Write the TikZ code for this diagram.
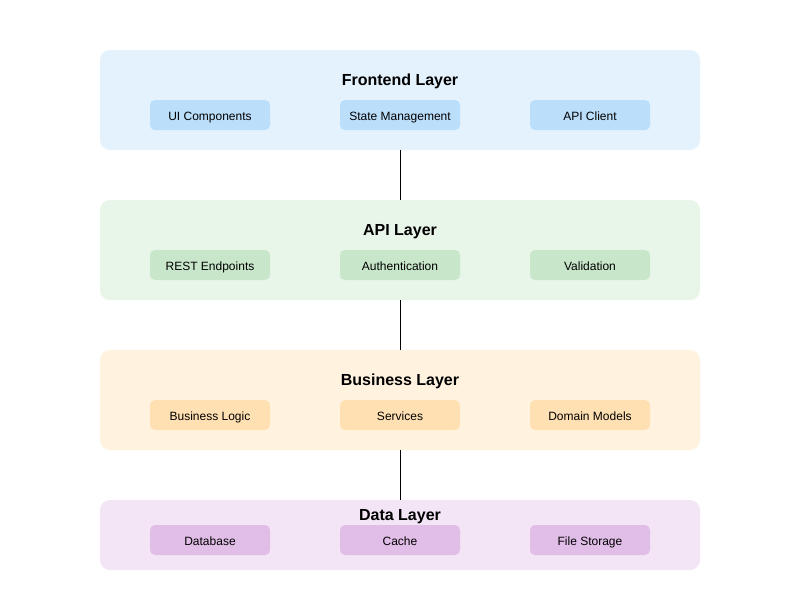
\documentclass[tikz,border=0pt]{standalone}
\usepackage{fontspec}
\setmainfont{Liberation Sans}

\definecolor{frontbg}{HTML}{E3F2FD}
\definecolor{frontpart}{HTML}{BBDEFB}
\definecolor{apibg}{HTML}{E8F5E9}
\definecolor{apipart}{HTML}{C8E6C9}
\definecolor{busbg}{HTML}{FFF3E0}
\definecolor{buspart}{HTML}{FFE0B2}
\definecolor{databg}{HTML}{F3E5F5}
\definecolor{datapart}{HTML}{E1BEE7}

\tikzset{
    layer/.style={rounded corners=10pt, minimum width=600pt, minimum height=100pt, inner sep=0pt},
    part/.style={rounded corners=5pt, minimum width=120pt, minimum height=30pt, inner sep=0pt,
        text height=10pt, text depth=0pt, font=\fontsize{12}{14}\selectfont},
    layertitle/.style={anchor=base, inner sep=0pt, font=\bfseries\fontsize{16}{19}\selectfont},
    link/.style={line width=1pt}
}

\begin{document}
\begin{tikzpicture}[x=1pt,y=-1pt]
    \useasboundingbox[fill=white] (0,0) rectangle (800,600);

    % frontend
    \node[layer, fill=frontbg] (front) at (400,100) {};
    \node[layertitle] (fronttitle) at (400,85.5) {Frontend Layer};
    \node[part, fill=frontpart] (ui) at (210,115) {UI Components};
    \node[part, fill=frontpart] (state) at (400,115) {State Management};
    \node[part, fill=frontpart] (client) at (590,115) {API Client};

    % api
    \node[layer, fill=apibg] (api) at (400,250) {};
    \node[layertitle] (apititle) at (400,235.5) {API Layer};
    \node[part, fill=apipart] (rest) at (210,265) {REST Endpoints};
    \node[part, fill=apipart] (auth) at (400,265) {Authentication};
    \node[part, fill=apipart] (valid) at (590,265) {Validation};

    % business
    \node[layer, fill=busbg] (bus) at (400,400) {};
    \node[layertitle] (bustitle) at (400,385.5) {Business Layer};
    \node[part, fill=buspart] (logic) at (210,415) {Business Logic};
    \node[part, fill=buspart] (services) at (400,415) {Services};
    \node[part, fill=buspart] (domain) at (590,415) {Domain Models};

    % data
    \node[layer, fill=databg, minimum height=70pt] (data) at (400,535) {};
    \node[layertitle] (datatitle) at (400,520) {Data Layer};
    \node[part, fill=datapart] (db) at (210,540) {Database};
    \node[part, fill=datapart] (cache) at (400,540) {Cache};
    \node[part, fill=datapart] (files) at (590,540) {File Storage};

    % links
    \draw[link] (front.south) -- (api.north);
    \draw[link] (api.south) -- (bus.north);
    \draw[link] (bus.south) -- (data.north);
\end{tikzpicture}
\end{document}
